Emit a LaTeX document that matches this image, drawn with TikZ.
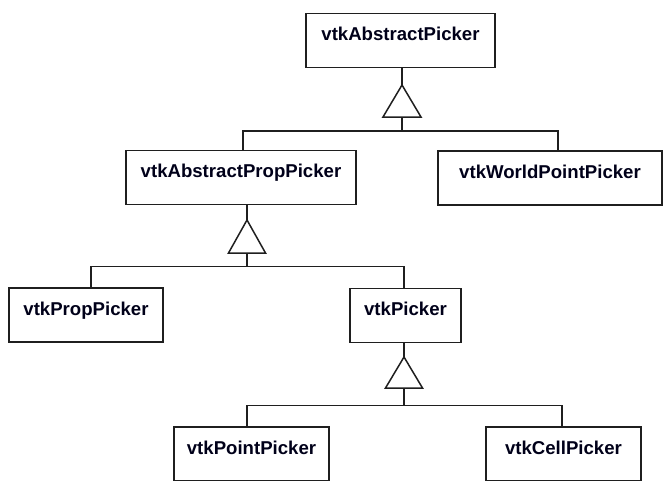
\documentclass[tikz,border=0pt]{standalone}
\usepackage{fontspec}
\setmainfont{Liberation Sans}
\begin{document}
\begin{tikzpicture}[x=1pt,y=-1pt,line width=1.5pt,color=black!88,
  cls/.style={draw, inner sep=0pt, text height=27pt, text depth=27pt,
    font=\fontsize{18.6}{20}\selectfont\bfseries, text=black!90!blue},
  gen/.style={draw, line join=miter}]
\useasboundingbox (0,0) rectangle (663,480);
% classes
\node[cls, minimum width=189pt] (AP)  at (400.5,40.5) {vtkAbstractPicker};
\node[cls, minimum width=230pt] (APP) at (241,177.5)  {vtkAbstractPropPicker};
\node[cls, minimum width=224pt] (WPP) at (550,178)    {vtkWorldPointPicker};
\node[cls, minimum width=154pt] (PP)  at (86,315)     {vtkPropPicker};
\node[cls, minimum width=111pt] (P)   at (405.5,315.5){vtkPicker};
\node[cls, minimum width=155pt] (PtP) at (251.5,454)  {vtkPointPicker};
\node[cls, minimum width=155pt] (CP)  at (563.5,454)  {vtkCellPicker};
% generalization 1
\coordinate (t1a) at (402,85);
\coordinate (t1b) at (402,117);
\draw (AP.south -| t1a) -- (t1a);
\draw[gen] (t1a) -- ++(-19,32) -- ++(38,0) -- cycle;
\draw (t1b) -- ++(0,15);
\draw ([xshift=2pt]APP.north) -- ++(0,-19) -| ([xshift=8pt]WPP.north);
% generalization 2
\coordinate (t2a) at (247,220);
\coordinate (t2b) at (247,253);
\draw (APP.south -| t2a) -- (t2a);
\draw[gen] (t2a) -- ++(-18.5,33) -- ++(37,0) -- cycle;
\draw (t2b) -- ++(0,14);
\draw ([xshift=5pt]PP.north) -- ++(0,-21) -| ([xshift=-1.5pt]P.north);
% generalization 3
\coordinate (t3a) at (404,357);
\coordinate (t3b) at (404,388);
\draw (P.south -| t3a) -- (t3a);
\draw[gen] (t3a) -- ++(-18.5,31) -- ++(37,0) -- cycle;
\draw (t3b) -- ++(0,18);
\draw ([xshift=-4.5pt]PtP.north) -- ++(0,-21) -| ([xshift=-1.5pt]CP.north);
\end{tikzpicture}
\end{document}
